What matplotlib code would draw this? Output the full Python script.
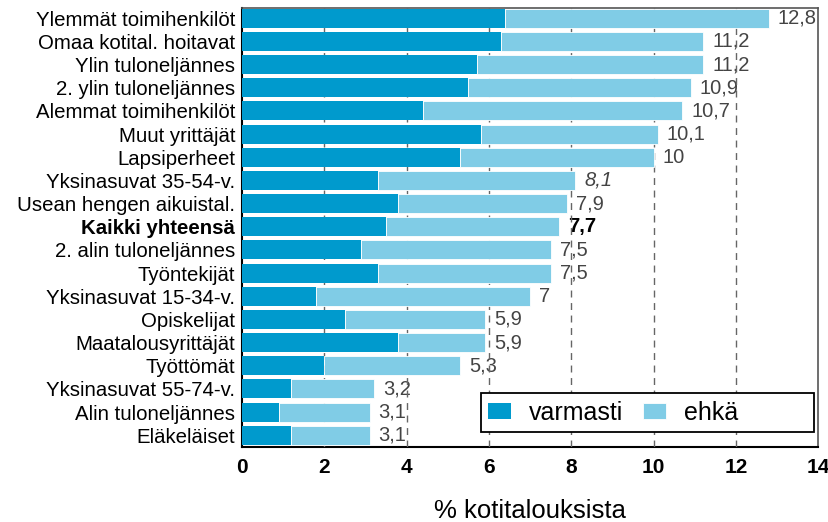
import matplotlib
matplotlib.use("Agg")
import matplotlib.pyplot as plt
from matplotlib.patches import Rectangle
import numpy as np

categories = ["Ylemmät toimihenkilöt", "Omaa kotital. hoitavat", "Ylin tuloneljännes",
              "2. ylin tuloneljännes", "Alemmat toimihenkilöt", "Muut yrittäjät",
              "Lapsiperheet", "Yksinasuvat 35-54-v.", "Usean hengen aikuistal.",
              "Kaikki yhteensä", "2. alin tuloneljännes", "Työntekijät",
              "Yksinasuvat 15-34-v.", "Opiskelijat", "Maatalousyrittäjät",
              "Työttömät", "Yksinasuvat 55-74-v.", "Alin tuloneljännes", "Eläkeläiset"]
varmasti = [6.4, 6.3, 5.7, 5.5, 4.4, 5.8, 5.3, 3.3, 3.8, 3.5, 2.9, 3.3, 1.8, 2.5, 3.8, 2.0, 1.2, 0.9, 1.2]
total = [12.8, 11.2, 11.2, 10.9, 10.7, 10.1, 10.0, 8.1, 7.9, 7.7, 7.5, 7.5, 7.0, 5.9, 5.9, 5.3, 3.2, 3.1, 3.1]
total_labels = ["12,8", "11,2", "11,2", "10,9", "10,7", "10,1", "10", "8,1", "7,9", "7,7",
                "7,5", "7,5", "7", "5,9", "5,9", "5,3", "3,2", "3,1", "3,1"]
ehka = [t - v for t, v in zip(total, varmasti)]
xticks = [0, 2, 4, 6, 8, 10, 12, 14]

plt.rcParams['font.family'] = ['Liberation Sans', 'DejaVu Sans']

fig = plt.figure(figsize=(8.29, 5.22), dpi=100)
ax = fig.add_axes([0.292, 0.144, 0.695, 0.841])

dark = '#009ACD'
light = '#80CCE6'
y = np.arange(len(categories))
ax.barh(y, varmasti, height=0.82, color=dark, label='varmasti', zorder=4)
ax.barh(y, ehka, left=varmasti, height=0.82, color=light, label='ehkä', zorder=4,
        edgecolor='white', linewidth=0.6)

for g in xticks[1:-1]:
    ax.axvline(g, color='#666666', linestyle=(0, (5, 4)), linewidth=1.0, zorder=3)

for i, (t, lab) in enumerate(zip(total, total_labels)):
    kw = dict(color='#444444', fontsize=14.5)
    if categories[i] == "Kaikki yhteensä":
        kw = dict(color='black', fontsize=14.5, fontweight='bold')
    elif categories[i] == "Yksinasuvat 35-54-v.":
        kw = dict(color='#444444', fontsize=14.5, fontstyle='italic')
    ax.text(t + 0.22, i, lab, va='center', ha='left', zorder=2, **kw)

ax.set_xlim(0, 14)
ax.set_ylim(18.5, -0.45)
ax.set_xticks(xticks)
ax.set_xticklabels([str(v) for v in xticks], fontsize=15, fontweight='bold')
ax.set_yticks(y)
ax.set_yticklabels(categories, fontsize=14.7)
for lbl in ax.get_yticklabels():
    if lbl.get_text() == "Kaikki yhteensä":
        lbl.set_fontweight('bold')
ax.tick_params(axis='y', length=0, pad=5)
ax.tick_params(axis='x', length=0, pad=8)
ax.set_xlabel('% kotitalouksista', fontsize=18.5, labelpad=16)

for s in ['left', 'bottom']:
    ax.spines[s].set_color('black')
    ax.spines[s].set_linewidth(1.5)
for s in ['top', 'right']:
    ax.spines[s].set_color('#555555')
    ax.spines[s].set_linewidth(1.2)

# legend frame box
box = Rectangle((481 / 829, 1 - 432 / 522), (814 - 481) / 829, 39 / 522,
                transform=fig.transFigure, facecolor='white', edgecolor='black',
                linewidth=1.3, zorder=5)
fig.patches.append(box)
leg = fig.legend(handles=ax.containers[0:1] + ax.containers[1:2], labels=['varmasti', 'ehkä'],
                 loc='center left', bbox_to_anchor=(488 / 829, 1 - 412.5 / 522),
                 ncol=2, fontsize=18, frameon=False, handlelength=0.92, handleheight=0.6,
                 handletextpad=0.72, columnspacing=0.8, borderpad=0, borderaxespad=0)
leg.set_zorder(6)

fig.savefig('out.png', dpi=100)
